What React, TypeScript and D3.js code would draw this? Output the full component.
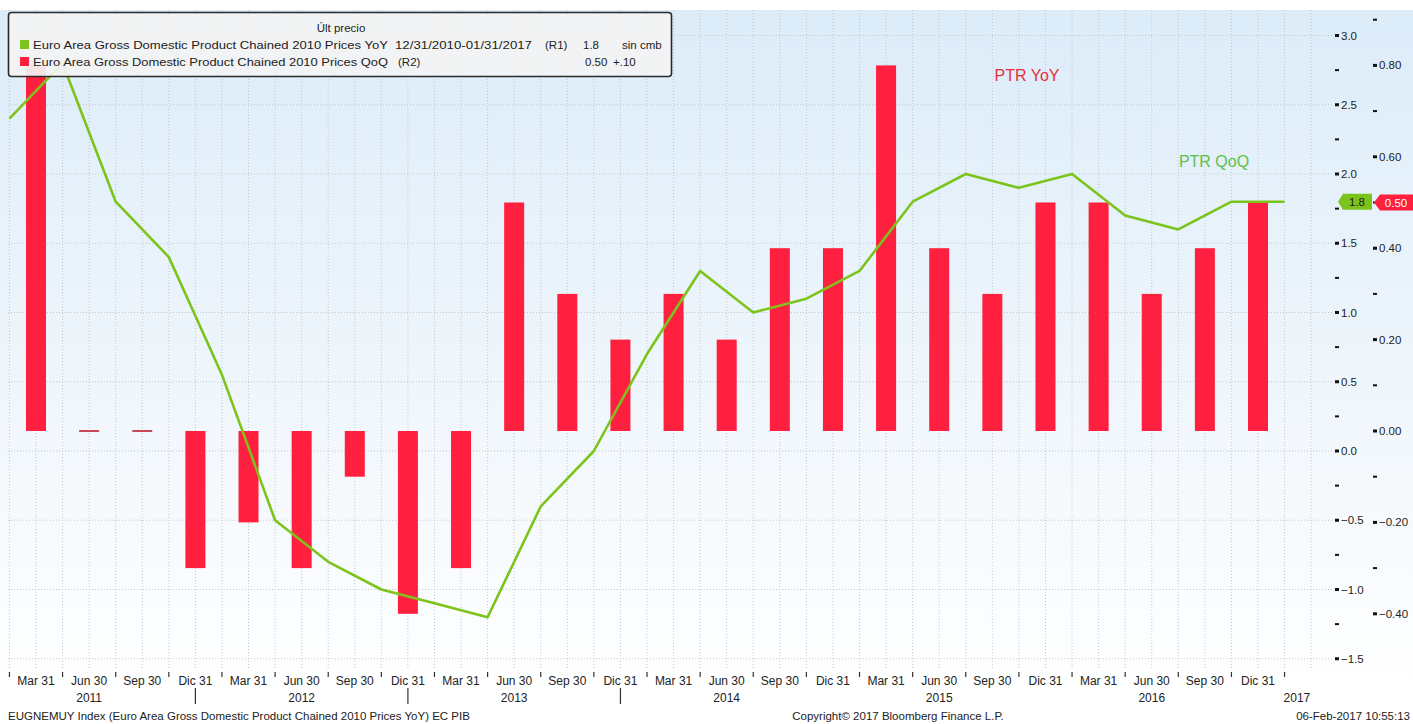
import React from 'react'
import * as d3 from 'd3'

// quarterly labels (bar dates)
const quarterLabels = [
	'Mar 31', 'Jun 30', 'Sep 30', 'Dic 31',
	'Mar 31', 'Jun 30', 'Sep 30', 'Dic 31',
	'Mar 31', 'Jun 30', 'Sep 30', 'Dic 31',
	'Mar 31', 'Jun 30', 'Sep 30', 'Dic 31',
	'Mar 31', 'Jun 30', 'Sep 30', 'Dic 31',
	'Mar 31', 'Jun 30', 'Sep 30', 'Dic 31',
]
const yearLabels = ['2011', '2012', '2013', '2014', '2015', '2016']

// QoQ (R2) bars
const qoqValues = [
	0.80, 0.00, 0.00, -0.30,
	-0.20, -0.30, -0.10, -0.40,
	-0.30, 0.50, 0.30, 0.20,
	0.30, 0.20, 0.40, 0.40,
	0.80, 0.40, 0.30, 0.50,
	0.50, 0.30, 0.40, 0.50,
]

// YoY (R1) line, points sit half a quarter before each bar
const yoyValues = [
	2.4, 2.8, 1.8, 1.4, 0.55,
	-0.5, -0.8, -1.0, -1.1, -1.2,
	-0.4, 0.0, 0.7, 1.3, 1.0,
	1.1, 1.3, 1.8, 2.0, 1.9,
	2.0, 1.7, 1.6, 1.8, 1.8,
]

const r1Ticks = [3.0, 2.5, 2.0, 1.5, 1.0, 0.5, 0.0, -0.5, -1.0, -1.5]
const r1Minor = [2.75, 2.25, 1.75, 1.25, 0.75, 0.25, -0.25, -0.75, -1.25]
const r2Ticks = [0.8, 0.6, 0.4, 0.2, 0.0, -0.2, -0.4]
const r2Minor = [0.9, 0.7, 0.5, 0.3, 0.1, -0.1, -0.3]

const W = 1413
const H = 724
const FONT = '"Liberation Sans", Arial, sans-serif'
const RED = '#ff1f3e'
const GREEN = '#7cc41c'

export default function App() {
	const x = d3.scaleLinear().domain([0, quarterLabels.length - 1]).range([36, 1258])
	const yR1 = d3.scaleLinear().domain([-1.5, 3.0]).range([658.75, 35.5])
	const yR2 = d3.scaleLinear().domain([-0.4, 0.8]).range([613.8, 65.4])
	const step = x(1) - x(0)
	const barW = 20

	const line = d3.line<number>()
		.x((d, i) => x(i - 0.5))
		.y(d => yR1(d))

	const plotLeft = 8
	const plotRight = 1333
	const plotTop = 10
	const plotBottom = 668

	// vertical grid every half quarter
	const vGrid = d3.range(-0.5, quarterLabels.length + 0.01, 0.5)

	const fmt1 = d3.format('.1f')
	const fmt2 = d3.format('.2f')

	return (
		<svg width={W} height={H} style={{position: 'absolute', left: 0, top: 0}} fontFamily={FONT}>
			<defs>
				<linearGradient id="bg" x1="0" y1="0" x2="0" y2="1">
					<stop offset="0" stopColor="#dcecf9" />
					<stop offset="0.6" stopColor="#f1f7fc" />
					<stop offset="1" stopColor="#ffffff" />
				</linearGradient>
				<clipPath id="plot">
					<rect x={plotLeft} y={plotTop} width={plotRight - plotLeft} height={plotBottom - plotTop} />
				</clipPath>
			</defs>
			<rect x={0} y={0} width={W} height={H} fill="#fff" />
			<rect x={0} y={plotTop} width={W} height={690 - plotTop} fill="url(#bg)" />

			{/* grid */}
			<g stroke="#c3c7cc" strokeWidth={1} strokeDasharray="1,2">
				{r1Ticks.map(t => (
					<line key={`h-${t}`} x1={plotLeft} x2={plotRight} y1={yR1(t)} y2={yR1(t)} />
				))}
				{vGrid.map(v => (
					<line key={`v-${v}`} x1={x(v)} x2={x(v)} y1={plotTop} y2={plotBottom} />
				))}
			</g>

			<g clipPath="url(#plot)">
				{qoqValues.map((d, i) => {
					const y0 = yR2(0)
					const y1 = yR2(d)
					const h = Math.abs(y1 - y0)
					return (
						<rect
							key={`bar-${i}`}
							x={x(i) - barW / 2}
							y={d === 0 ? y0 - 1 : Math.min(y0, y1)}
							width={barW}
							height={d === 0 ? 2 : h}
							fill={d === 0 ? '#c8485a' : RED}
						/>
					)
				})}
				<path d={line(yoyValues) || ''} fill="none" stroke={GREEN} strokeWidth={2.6} strokeLinejoin="round" />
			</g>

			{/* annotations */}
			<text x={1027} y={81} textAnchor="middle" fontSize={16} fill="#e8303c">PTR YoY</text>
			<text x={1214} y={167} textAnchor="middle" fontSize={16} fill="#5fbf4a">PTR QoQ</text>

			{/* legend */}
			<g fontSize={11.5} fill="#222">
				<rect x={8.5} y={12.5} width={663} height={64} rx={3} fill="#f3f3f3" fillOpacity={0.93} stroke="#2a2a2a" strokeWidth={1.6} />
				<text x={341} y={32} textAnchor="middle">Últ precio</text>
				<rect x={20} y={40} width={9} height={9} fill={GREEN} />
				<text x={33} y={49} textLength={355} lengthAdjust="spacingAndGlyphs">Euro Area Gross Domestic Product Chained 2010 Prices YoY</text>
				<text x={395} y={49} textLength={137} lengthAdjust="spacingAndGlyphs">12/31/2010-01/31/2017</text>
				<text x={545} y={49}>(R1)</text>
				<text x={583} y={49}>1.8</text>
				<text x={622} y={49}>sin cmb</text>
				<rect x={20} y={57} width={9} height={9} fill={RED} />
				<text x={33} y={66} textLength={355} lengthAdjust="spacingAndGlyphs">Euro Area Gross Domestic Product Chained 2010 Prices QoQ</text>
				<text x={398} y={66}>(R2)</text>
				<text x={585} y={66}>0.50</text>
				<text x={613} y={66}>+.10</text>
			</g>

			{/* right axis R1 */}
			<g fontSize={11.5} fill="#222">
				{r1Ticks.map(t => (
					<g key={`r1-${t}`}>
						<rect x={1335} y={yR1(t) - 1.5} width={4} height={3} fill="#111" />
						<text x={1341} y={yR1(t) + 4}>{fmt1(t)}</text>
					</g>
				))}
				{r1Minor.map(t => (
					<rect key={`r1m-${t}`} x={1335} y={yR1(t) - 1} width={4} height={2} fill="#111" />
				))}
			</g>

			{/* right axis R2 */}
			<g fontSize={11.5} fill="#222">
				{r2Ticks.map(t => (
					<g key={`r2-${t}`}>
						<rect x={1373} y={yR2(t) - 1.5} width={4} height={3} fill="#111" />
						<text x={1379} y={yR2(t) + 4}>{fmt2(t)}</text>
					</g>
				))}
				{r2Minor.map(t => (
					<rect key={`r2m-${t}`} x={1373} y={yR2(t) - 1} width={4} height={2} fill="#111" />
				))}
			</g>

			{/* last value tags */}
			<g fontSize={11.5}>
				<path
					d={`M1338,${yR1(1.8)} L1343,${yR1(1.8) - 8} L1372,${yR1(1.8) - 8} L1372,${yR1(1.8) + 8} L1343,${yR1(1.8) + 8} Z`}
					fill={GREEN}
				/>
				<text x={1357} y={yR1(1.8) + 4} textAnchor="middle" fill="#1a1a1a">1.8</text>
				<path
					d={`M1374,${yR2(0.5)} L1380,${yR2(0.5) - 8} L1413,${yR2(0.5) - 8} L1413,${yR2(0.5) + 8} L1380,${yR2(0.5) + 8} Z`}
					fill={RED}
				/>
				<text x={1396} y={yR2(0.5) + 4} textAnchor="middle" fill="#fff">0.50</text>
			</g>

			{/* bottom axis */}
			<g fontSize={12} fill="#222">
				{d3.range(0, quarterLabels.length + 1).map(j => (
					<line key={`bt-${j}`} x1={x(j - 0.5)} x2={x(j - 0.5)} y1={672} y2={677} stroke="#333" strokeWidth={1.2} />
				))}
				{quarterLabels.map((q, i) => (
					<text key={`q-${i}`} x={x(i)} y={685} textAnchor="middle">{q}</text>
				))}
				{yearLabels.map((yr, k) => (
					<text key={`y-${yr}`} x={x(k * 4 + 1)} y={702} textAnchor="middle">{yr}</text>
				))}
				<text x={x(23.5) - 1} y={702}>2017</text>
				{[3, 7, 11].map(i => (
					<line key={`sep-${i}`} x1={x(i)} x2={x(i)} y1={688} y2={704} stroke="#333" strokeWidth={1.2} />
				))}
			</g>

			{/* footer */}
			<g fontSize={11.5} fill="#222">
				<text x={8} y={720}>EUGNEMUY Index (Euro Area Gross Domestic Product Chained 2010 Prices YoY) EC PIB</text>
				<text x={898} y={720} textAnchor="middle">Copyright© 2017 Bloomberg Finance L.P.</text>
				<text x={1410} y={720} textAnchor="end">06-Feb-2017 10:55:13</text>
			</g>
		</svg>
	)
}
